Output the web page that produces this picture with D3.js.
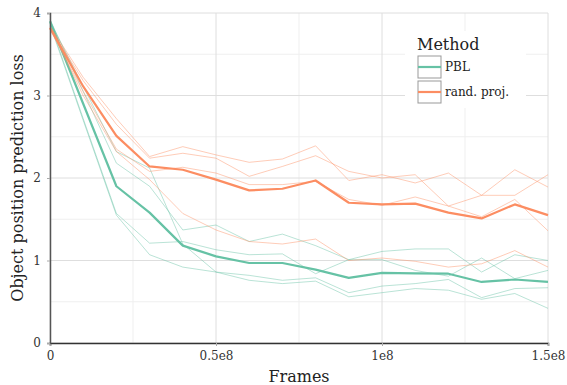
<!DOCTYPE html>
<html>
<head>
<meta charset="utf-8">
<script src="https://cdn.jsdelivr.net/npm/d3@7"></script>
<style>
  body { margin: 0; background: #fff; }
</style>
</head>
<body>
<div id="chart"></div>
<script>
// Object position prediction loss vs. frames, two methods, 4 runs + mean each.

var WIDTH  = 567;
var HEIGHT = 385;
var MARGIN = {top: 13, right: 19, bottom: 42, left: 50};
var FONT = '"DejaVu Serif", "Liberation Serif", serif';

var FRAMES = [0, 1e7, 2e7, 3e7, 4e7, 5e7, 6e7, 7e7, 8e7, 9e7, 1e8, 1.1e8, 1.2e8, 1.3e8, 1.4e8, 1.5e8];

var PBL_RUNS = [
  [3.92, 3.05, 2.18, 1.90, 1.37, 1.43, 1.23, 1.32, 1.18, 1.01, 1.01, 0.88, 0.81, 1.03, 0.78, 0.88],
  [3.90, 3.11, 2.32, 2.12, 1.20, 0.86, 0.82, 0.76, 0.79, 0.61, 0.69, 0.72, 0.77, 0.55, 0.66, 0.67],
  [3.88, 2.72, 1.57, 1.21, 1.23, 1.13, 1.07, 1.08, 0.84, 1.01, 1.11, 1.14, 1.14, 0.86, 1.07, 1.00],
  [3.86, 2.70, 1.55, 1.07, 0.92, 0.86, 0.76, 0.72, 0.75, 0.56, 0.61, 0.66, 0.64, 0.53, 0.60, 0.42]
];
var PBL_MEAN = [3.90, 2.90, 1.90, 1.58, 1.18, 1.05, 0.97, 0.97, 0.89, 0.79, 0.85, 0.845, 0.84, 0.74, 0.77, 0.74];

var RAND_RUNS = [
  [3.84, 3.22, 2.72, 2.26, 2.38, 2.28, 2.19, 2.23, 2.39, 1.97, 2.04, 1.94, 2.06, 1.79, 1.79, 2.04],
  [3.82, 3.18, 2.65, 2.24, 2.30, 2.24, 2.02, 2.14, 2.27, 2.08, 2.00, 2.04, 1.66, 1.79, 2.10, 1.89],
  [3.80, 3.05, 2.35, 2.08, 2.13, 2.06, 1.92, 1.92, 1.96, 1.74, 1.67, 1.77, 1.66, 1.53, 1.74, 1.36],
  [3.83, 3.00, 2.32, 1.98, 1.57, 1.37, 1.23, 1.20, 1.26, 1.00, 1.03, 0.99, 0.92, 0.96, 1.12, 0.92]
];
var RAND_MEAN = [3.82, 3.11, 2.51, 2.14, 2.10, 1.98, 1.85, 1.87, 1.97, 1.70, 1.68, 1.69, 1.58, 1.51, 1.68, 1.55];

var METHODS = ['PBL', 'rand. proj.'];
var COLORS  = ['#66c2a5', '#fc8d62'];

var X_TICKS = [0, 0.5e8, 1e8, 1.5e8];
var X_TICK_LABELS = ['0', '0.5e8', '1e8', '1.5e8'];
var X_MINOR = [0.25e8, 0.75e8, 1.25e8];
var Y_TICKS = [0, 1, 2, 3, 4];
var Y_MINOR = [0.5, 1.5, 2.5, 3.5];

var svg = d3.select('#chart').append('svg')
            .attr('width', WIDTH)
            .attr('height', HEIGHT)
            .style('font-family', FONT);

var x = d3.scaleLinear()
          .domain([0, 1.5e8])
          .range([MARGIN.left, WIDTH - MARGIN.right]);
var y = d3.scaleLinear()
          .domain([0, 4])
          .range([HEIGHT - MARGIN.bottom, MARGIN.top]);

// grid: minor first, then major on top
var grid = svg.append('g');
grid.selectAll('.ymin').data(Y_MINOR).enter().append('line')
    .attr('x1', x(0)).attr('x2', x(1.5e8))
    .attr('y1', d => y(d)).attr('y2', d => y(d))
    .attr('stroke', '#efefef');
grid.selectAll('.xmin').data(X_MINOR).enter().append('line')
    .attr('y1', y(0)).attr('y2', y(4))
    .attr('x1', d => x(d)).attr('x2', d => x(d))
    .attr('stroke', '#efefef');
grid.selectAll('.ymaj').data(Y_TICKS).enter().append('line')
    .attr('x1', x(0)).attr('x2', x(1.5e8))
    .attr('y1', d => y(d)).attr('y2', d => y(d))
    .attr('stroke', '#dedede');
grid.selectAll('.xmaj').data(X_TICKS).enter().append('line')
    .attr('y1', y(0)).attr('y2', y(4))
    .attr('x1', d => x(d)).attr('x2', d => x(d))
    .attr('stroke', '#dedede');

var line = d3.line()
             .x((d, i) => x(FRAMES[i]))
             .y(d => y(d));

function drawMethod(runs, mean, color) {
    var g = svg.append('g');
    g.selectAll('path.run')
        .data(runs)
        .enter()
        .append('path')
        .attr('d', line)
        .attr('fill', 'none')
        .attr('stroke', color)
        .attr('stroke-opacity', 0.45)
        .attr('stroke-width', 1);
    g.append('path')
        .datum(mean)
        .attr('d', line)
        .attr('fill', 'none')
        .attr('stroke', color)
        .attr('stroke-width', 2.2)
        .attr('stroke-linejoin', 'round');
}

drawMethod(PBL_RUNS, PBL_MEAN, COLORS[0]);
drawMethod(RAND_RUNS, RAND_MEAN, COLORS[1]);

// axes
var xAxis = d3.axisBottom(x)
              .tickValues(X_TICKS)
              .tickFormat((d, i) => X_TICK_LABELS[i])
              .tickSize(3)
              .tickPadding(5);
var yAxis = d3.axisLeft(y)
              .tickValues(Y_TICKS)
              .tickFormat(d3.format('d'))
              .tickSize(3)
              .tickPadding(6);

var gx = svg.append('g')
            .attr('transform', `translate(0,${y(0)})`)
            .call(xAxis);
var gy = svg.append('g')
            .attr('transform', `translate(${x(0)},0)`)
            .call(yAxis);

[gx, gy].forEach(g => {
    g.attr('font-family', null).attr('font-size', null);
    g.selectAll('text')
     .style('font-family', FONT)
     .style('font-size', '12px')
     .attr('fill', '#333');
    g.selectAll('.tick line').attr('stroke', '#aaa');
});
gx.select('.domain').attr('stroke', '#333').attr('stroke-width', 1.5);
gy.select('.domain').attr('stroke', '#555').attr('stroke-width', 1.5);

// axis titles
svg.append('text')
    .attr('x', (x(0) + x(1.5e8)) / 2)
    .attr('y', 382)
    .attr('text-anchor', 'middle')
    .attr('fill', '#222')
    .style('font-size', '16px')
    .text('Frames');

svg.append('text')
    .attr('transform', `translate(23,${(y(0) + y(4)) / 2}) rotate(-90)`)
    .attr('text-anchor', 'middle')
    .attr('fill', '#222')
    .style('font-size', '16px')
    .text('Object position prediction loss');

// legend
var legend = svg.append('g').attr('transform', 'translate(405,31)');
legend.append('rect')
    .attr('width', 121).attr('height', 77)
    .attr('fill', '#fff');
legend.append('text')
    .attr('x', 12).attr('y', 19)
    .attr('fill', '#222')
    .style('font-size', '16px')
    .text('Method');

var entry = legend.selectAll('g.entry')
    .data(METHODS)
    .enter()
    .append('g')
    .attr('transform', (d, i) => `translate(13,${25 + i * 25})`);
entry.append('rect')
    .attr('width', 23).attr('height', 22)
    .attr('fill', '#fff')
    .attr('stroke', '#999');
entry.append('line')
    .attr('x1', 0).attr('x2', 23)
    .attr('y1', 11).attr('y2', 11)
    .attr('stroke', (d, i) => COLORS[i])
    .attr('stroke-width', 2.2);
entry.append('text')
    .attr('x', 27).attr('y', 15)
    .attr('fill', '#222')
    .style('font-size', '12px')
    .text(d => d);
</script>
</body>
</html>
